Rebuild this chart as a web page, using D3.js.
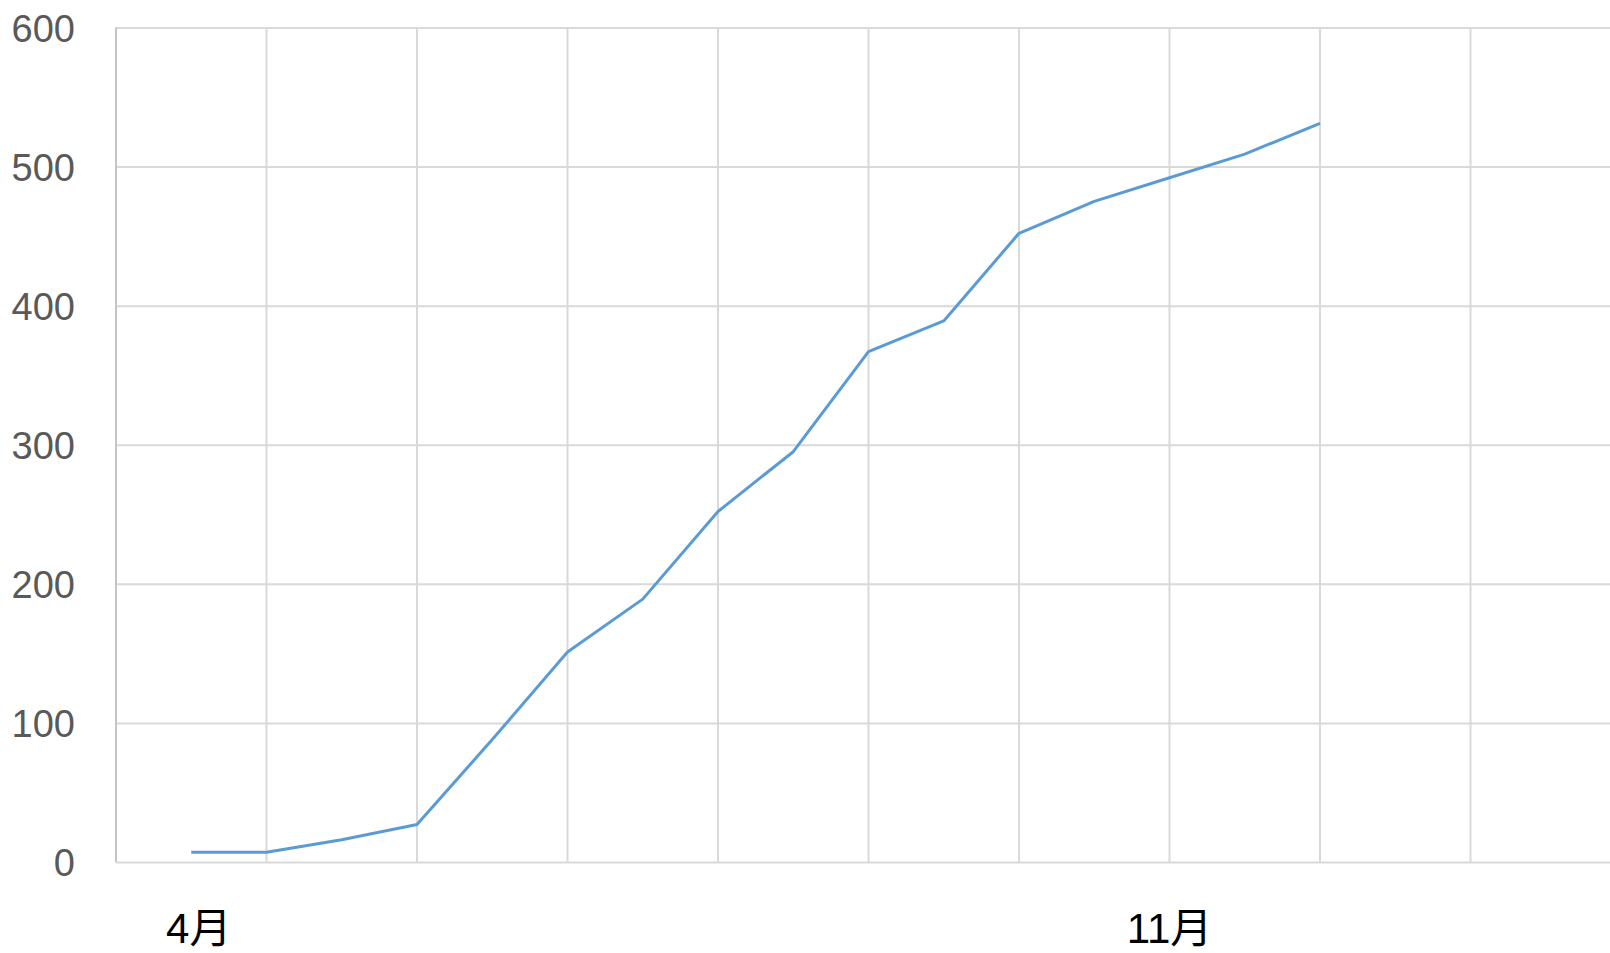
<!DOCTYPE html>
<html>
<head>
<meta charset="utf-8">
<script src="https://cdn.jsdelivr.net/npm/d3@7"></script>
<style>
  html, body { margin: 0; padding: 0; background: #fff; overflow: hidden; }
  svg { display: block; }
</style>
</head>
<body>
<div id="chart"></div>
<script>
// cumulative values, one per period
const values = [7, 7, 16, 27, 88, 151, 189, 252, 295, 367, 389, 452, 475, 492, 509, 531];
// month labels and where they sit along the category axis (in periods)
const monthLabels = ['4月', '11月'];
const monthAt = [0.1, 13];
const yTicks = [0, 100, 200, 300, 400, 500, 600];

const width = 1610;
const height = 953;

const svg = d3.select('#chart')
  .append('svg')
  .attr('width', width)
  .attr('height', height);

// category index -> x ; plot starts half a step before the first point
const x = d3.scaleLinear()
  .domain([-1, 19])
  .range([116, 116 + 150.5 * 10]);

const y = d3.scaleLinear()
  .domain([0, 600])
  .range([862, 27.5]);

// vertical gridlines every two categories
const vGrid = d3.range(1, 19, 2);
svg.append('g')
  .selectAll('line')
  .data(vGrid)
  .enter()
  .append('line')
  .attr('x1', (d) => x(d))
  .attr('x2', (d) => x(d))
  .attr('y1', y(600))
  .attr('y2', y(0))
  .attr('stroke', '#d9d9d9')
  .attr('stroke-width', 2);

// horizontal gridlines + y labels through d3 axis
const yAxis = svg.append('g')
  .attr('transform', `translate(${x(-1)},0)`)
  .call(
    d3.axisLeft(y)
      .tickValues(yTicks)
      .tickSize(-(width - x(-1)))
      .tickPadding(41)
  );

yAxis.select('.domain').remove();
yAxis.selectAll('.tick line')
  .attr('stroke', '#d9d9d9')
  .attr('stroke-width', 2);
yAxis.selectAll('.tick text')
  .attr('fill', '#595959')
  .style('font-family', '"Liberation Sans", Arial, sans-serif')
  .style('font-size', '38px')
  .attr('dy', '0.36em');

// left axis line
svg.append('line')
  .attr('x1', x(-1))
  .attr('x2', x(-1))
  .attr('y1', y(600))
  .attr('y2', y(0))
  .attr('stroke', '#c4c4c4')
  .attr('stroke-width', 2);

// x labels
svg.append('g')
  .selectAll('text')
  .data(monthLabels)
  .enter()
  .append('text')
  .attr('x', (d, i) => x(monthAt[i]))
  .attr('y', 943)
  .attr('text-anchor', 'middle')
  .attr('fill', '#000')
  .style('font-family', '"Liberation Sans", "Noto Sans CJK JP", sans-serif')
  .style('font-size', '42px')
  .text((d) => d);

// the series line
const line = d3.line()
  .x((d, i) => x(i))
  .y((d) => y(d));

svg.append('path')
  .datum(values)
  .attr('fill', 'none')
  .attr('stroke', '#5b9bd5')
  .attr('stroke-width', 3)
  .attr('stroke-linejoin', 'round')
  .attr('d', line);
</script>
</body>
</html>
